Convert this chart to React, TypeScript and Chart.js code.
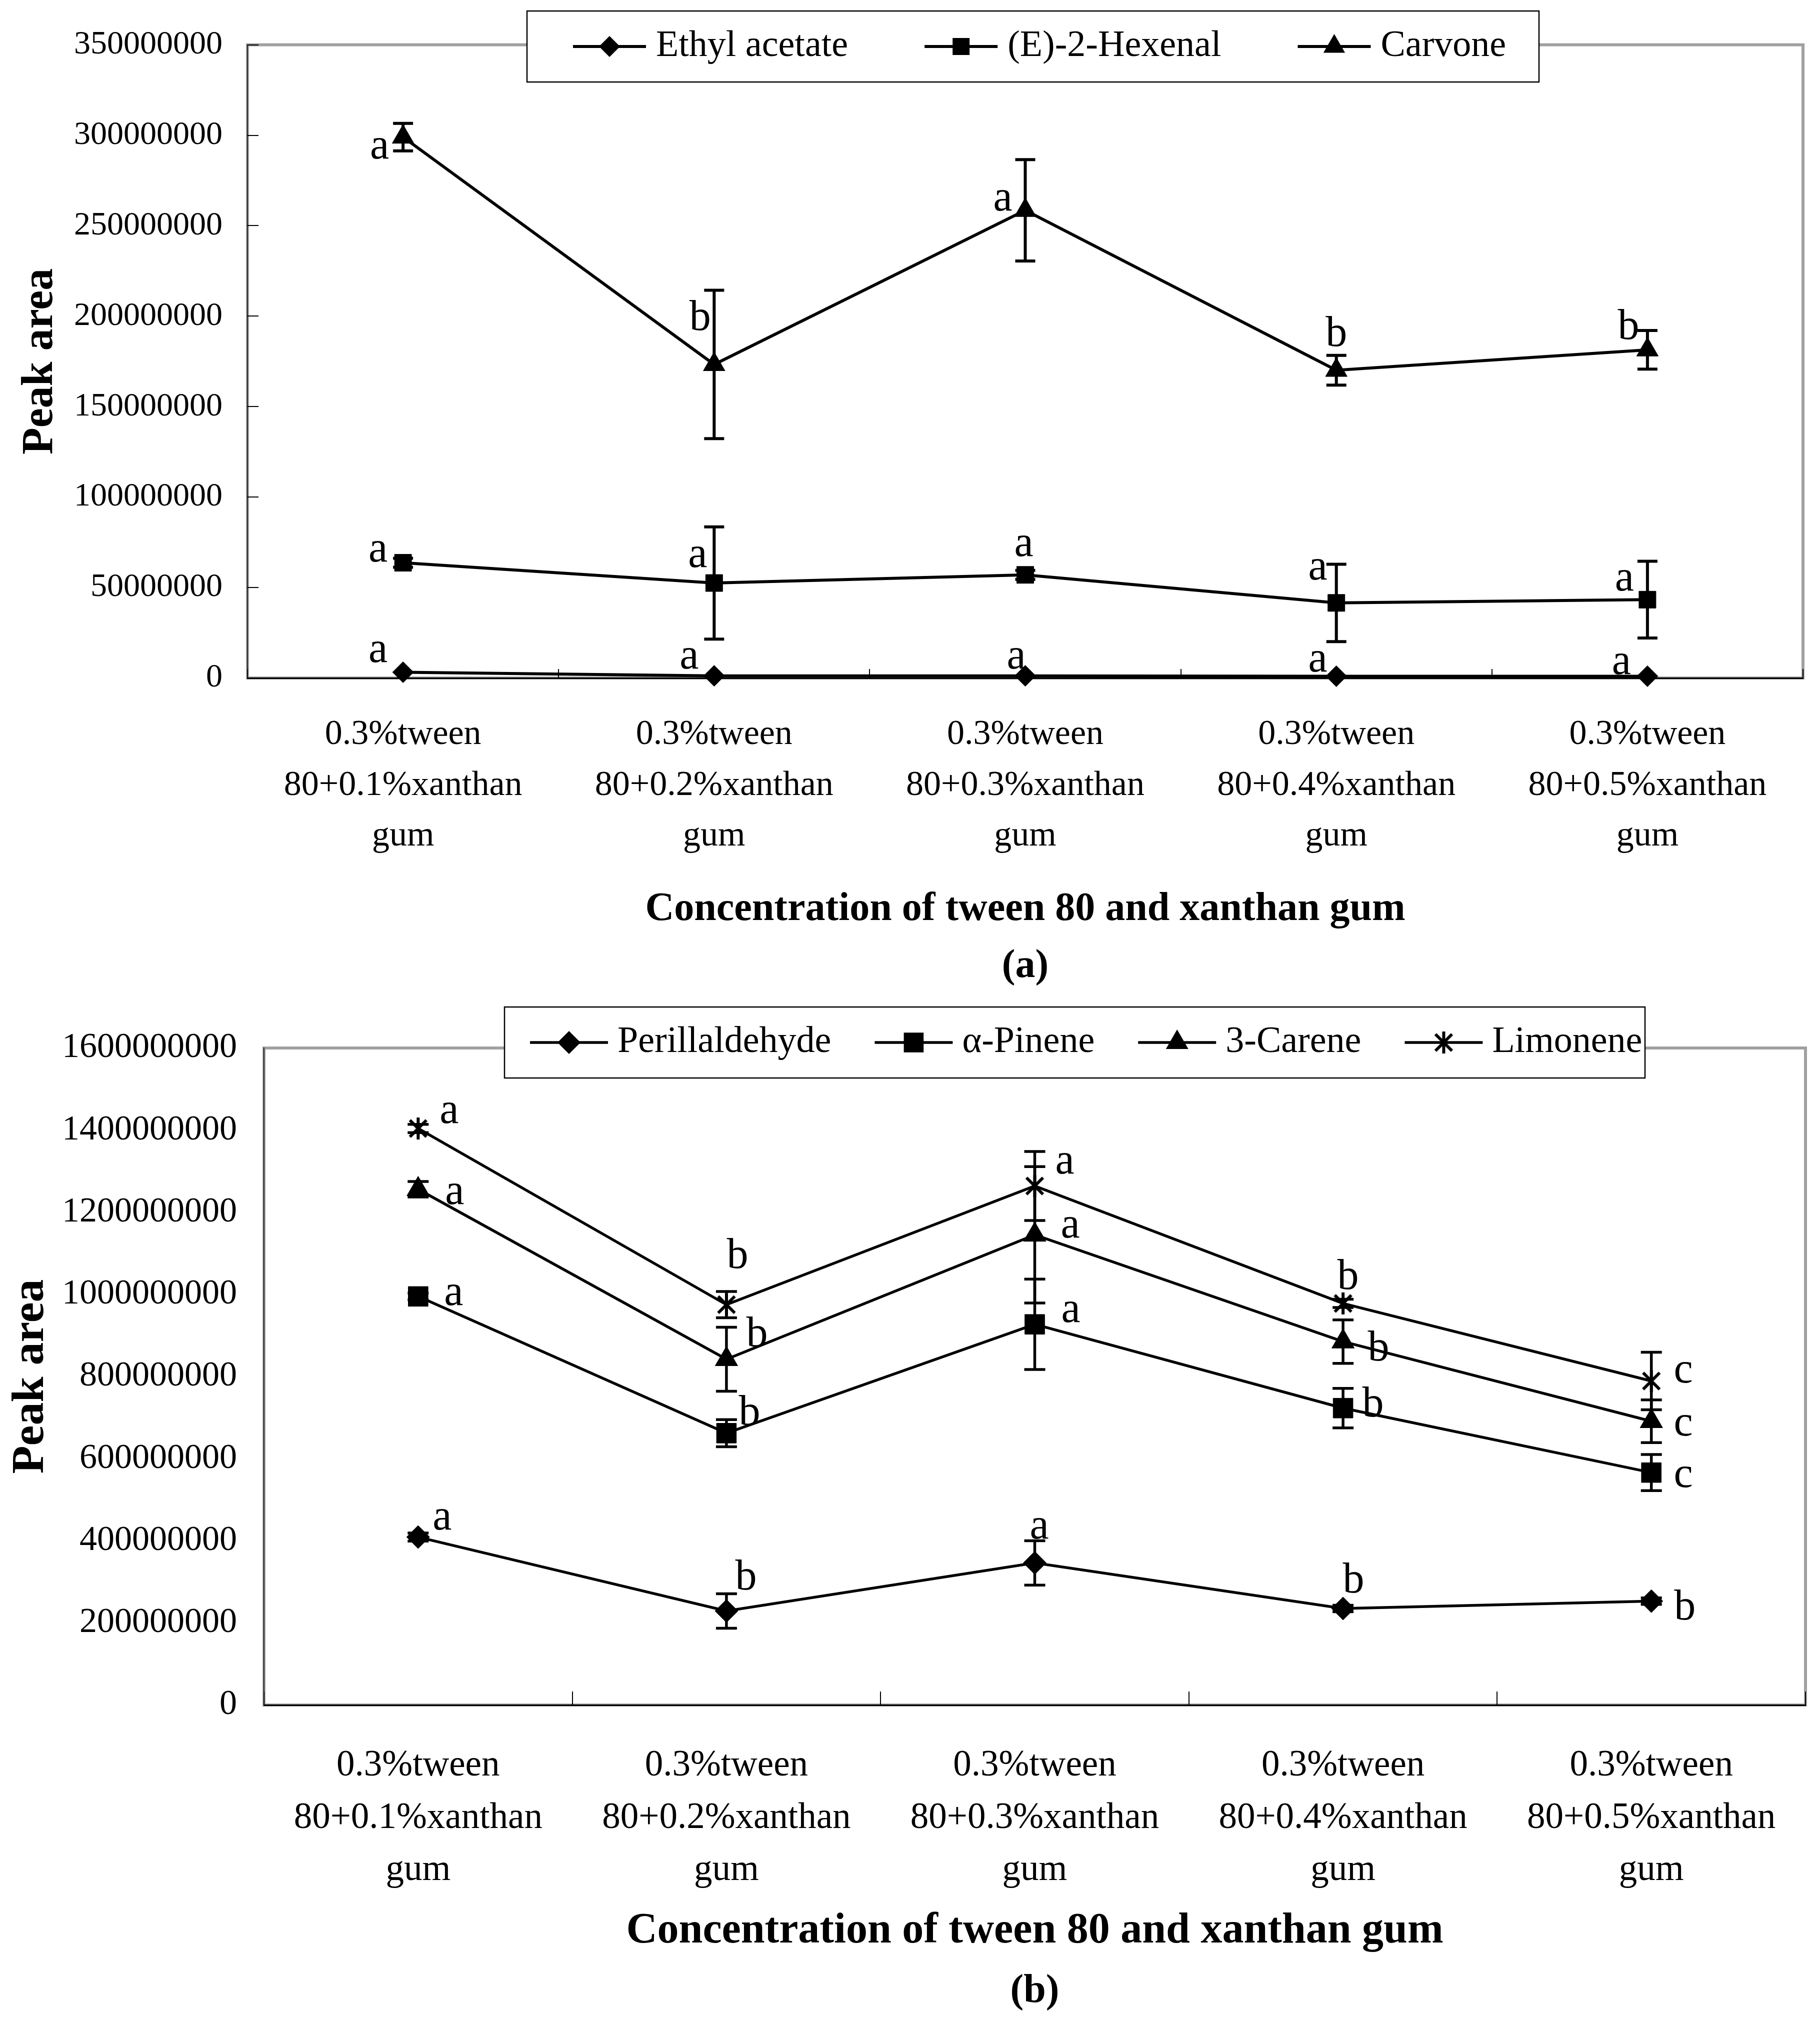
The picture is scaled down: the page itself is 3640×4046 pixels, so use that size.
import { useEffect, useRef } from "react";
import { Chart, registerables } from "chart.js";

Chart.register(...registerables);

const SERIF = "'Liberation Serif', 'Times New Roman', serif";
const PAGE_W = 3640;

// ---------------- data ----------------
const CATEGORIES = [
  ["0.3%tween", "80+0.1%xanthan", "gum"],
  ["0.3%tween", "80+0.2%xanthan", "gum"],
  ["0.3%tween", "80+0.3%xanthan", "gum"],
  ["0.3%tween", "80+0.4%xanthan", "gum"],
  ["0.3%tween", "80+0.5%xanthan", "gum"],
];
const X_TITLE = "Concentration of tween 80 and xanthan gum";
const Y_TITLE = "Peak area";

// panel (a)
const A_Y_MAX = 350000000;
const A_Y_STEP = 50000000;
const ETHYL_ACETATE = [3200000, 1200000, 1200000, 1000000, 1000000];
const ETHYL_ACETATE_ERR = [0, 0, 0, 0, 0];
const ETHYL_ACETATE_SIG = ["a", "a", "a", "a", "a"];
const HEXENAL = [63700000, 52500000, 57000000, 41500000, 43300000];
const HEXENAL_ERR = [2500000, 31000000, 2500000, 21400000, 21200000];
const HEXENAL_SIG = ["a", "a", "a", "a", "a"];
const CARVONE = [299000000, 173300000, 258500000, 170100000, 181400000];
const CARVONE_ERR = [7600000, 41000000, 28000000, 8200000, 10700000];
const CARVONE_SIG = ["a", "b", "a", "b", "b"];

// panel (b)
const B_Y_MAX = 1600000000;
const B_Y_STEP = 200000000;
const PERILLALDEHYDE = [409000000, 229000000, 346000000, 235000000, 253000000];
const PERILLALDEHYDE_ERR = [10000000, 42000000, 54000000, 8000000, 8000000];
const PERILLALDEHYDE_SIG = ["a", "b", "a", "b", "b"];
const PINENE = [995000000, 662000000, 927000000, 723000000, 566000000];
const PINENE_ERR = [8000000, 33000000, 110000000, 48000000, 44000000];
const PINENE_SIG = ["a", "b", "a", "b", "c"];
const CARENE = [1256000000, 842000000, 1145000000, 885000000, 691000000];
const CARENE_ERR = [19000000, 78000000, 166000000, 53000000, 52000000];
const CARENE_SIG = ["a", "b", "a", "b", "c"];
const LIMONENE = [1404000000, 975000000, 1264000000, 978000000, 789000000];
const LIMONENE_ERR = [10000000, 32000000, 84000000, 10000000, 70000000];
const LIMONENE_SIG = ["a", "b", "a", "b", "c"];

// ---------------- layout (label placement relative to each point, px) ----------------
const A_LABEL_OFFSETS = {
  ethyl: [[-50, -40], [-50, -34], [-18, -34], [-37, -29], [-52, -24]],
  hexenal: [[-50, -22], [-33, -52], [-3, -58], [-37, -67], [-46, -38]],
  carvone: [[-47, 23], [-28, -98], [-45, -19], [0, -78], [-38, -51]],
};
const B_LABEL_OFFSETS = {
  perill: [[48, -35], [39, -72], [9, -69], [21, -61], [67, 8]],
  pinene: [[71, -3], [46, -46], [72, -24], [60, -12], [64, 9]],
  carene: [[73, 10], [61, -55], [71, -14], [71, 9], [64, 9]],
  limonene: [[62, -31], [22, -103], [60, -45], [10, -58], [64, -17]],
};

type Marker = "rect" | "rectRot" | "triangle" | "asterisk";

interface Series {
  label: string;
  values: number[];
  errors: number[];
  letters: string[];
  offsets: number[][];
  marker: Marker;
  radius: number;
}

interface PanelSpec {
  canvasHeight: number;
  area: { left: number; top: number; right: number; bottom: number };
  yMax: number;
  yStep: number;
  yTickFont: number;
  yTickPad: number;
  yTitleFont: number;
  yTitlePad: number;
  yInnerTickLen: number;
  xTickFont: number;
  xTickLineHeight: number;
  xTickPad: number;
  xInnerTickLen: number;
  xTitleFont: number;
  xTitlePadBottom: number;
  panelLabel: string;
  panelLabelY: number;
  panelLabelFont: number;
  legend: {
    left: number; top: number; width: number; height: number;
    pad: number; lineLen: number; textGap: number; itemGap: number; font: number;
  };
  letterFont: number;
  capHalf: number;
  starSize: number;
  lineWidth: number;
  series: Series[];
}

const PANEL_A: PanelSpec = {
  canvasHeight: 2000,
  area: { left: 495, top: 87, right: 3606, bottom: 1356 },
  yMax: A_Y_MAX,
  yStep: A_Y_STEP,
  yTickFont: 66,
  yTickPad: 50,
  yTitleFont: 88,
  yTitlePad: 28,
  yInnerTickLen: 22,
  xTickFont: 70,
  xTickLineHeight: 1.45,
  xTickPad: 63,
  xInnerTickLen: 18,
  xTitleFont: 80,
  xTitlePadBottom: 133,
  panelLabel: "(a)",
  panelLabelY: 1933,
  panelLabelFont: 80,
  legend: { left: 1054, top: 22, width: 2024, height: 142, pad: 92, lineLen: 146, textGap: 20, itemGap: 153, font: 74 },
  letterFont: 86,
  capHalf: 20,
  starSize: 44,
  lineWidth: 6,
  series: [
    { label: "Ethyl acetate", values: ETHYL_ACETATE, errors: ETHYL_ACETATE_ERR, letters: ETHYL_ACETATE_SIG, offsets: A_LABEL_OFFSETS.ethyl, marker: "rectRot", radius: 21 },
    { label: "(E)-2-Hexenal", values: HEXENAL, errors: HEXENAL_ERR, letters: HEXENAL_SIG, offsets: A_LABEL_OFFSETS.hexenal, marker: "rect", radius: 24 },
    { label: "Carvone", values: CARVONE, errors: CARVONE_ERR, letters: CARVONE_SIG, offsets: A_LABEL_OFFSETS.carvone, marker: "triangle", radius: 25 },
  ],
};

const PANEL_B: PanelSpec = {
  canvasHeight: 2046,
  area: { left: 528, top: 83, right: 3622, bottom: 1410 },
  yMax: B_Y_MAX,
  yStep: B_Y_STEP,
  yTickFont: 70,
  yTickPad: 54,
  yTitleFont: 92,
  yTitlePad: 7,
  yInnerTickLen: 0,
  xTickFont: 73,
  xTickLineHeight: 1.43,
  xTickPad: 70,
  xInnerTickLen: 27,
  xTitleFont: 86,
  xTitlePadBottom: 132,
  panelLabel: "(b)",
  panelLabelY: 1983,
  panelLabelFont: 80,
  legend: { left: 1009, top: 14, width: 2281, height: 142, pad: 51, lineLen: 156, textGap: 19, itemGap: 87, font: 74 },
  letterFont: 86,
  capHalf: 21,
  starSize: 46,
  lineWidth: 5.5,
  series: [
    { label: "Perillaldehyde", values: PERILLALDEHYDE, errors: PERILLALDEHYDE_ERR, letters: PERILLALDEHYDE_SIG, offsets: B_LABEL_OFFSETS.perill, marker: "rectRot", radius: 23 },
    { label: "α-Pinene", values: PINENE, errors: PINENE_ERR, letters: PINENE_SIG, offsets: B_LABEL_OFFSETS.pinene, marker: "rect", radius: 28 },
    { label: "3-Carene", values: CARENE, errors: CARENE_ERR, letters: CARENE_SIG, offsets: B_LABEL_OFFSETS.carene, marker: "triangle", radius: 26 },
    { label: "Limonene", values: LIMONENE, errors: LIMONENE_ERR, letters: LIMONENE_SIG, offsets: B_LABEL_OFFSETS.limonene, marker: "asterisk", radius: 23 },
  ],
};

function makeStar(size: number, lw: number): HTMLCanvasElement {
  const c = document.createElement("canvas");
  c.width = size;
  c.height = size;
  const g = c.getContext("2d")!;
  g.strokeStyle = "#000";
  g.lineWidth = lw;
  g.beginPath();
  g.moveTo(size / 2, 1);
  g.lineTo(size / 2, size - 1);
  const m = size * 0.14;
  g.moveTo(m, m);
  g.lineTo(size - m, size - m);
  g.moveTo(size - m, m);
  g.lineTo(m, size - m);
  g.stroke();
  return c;
}

function drawMarker(ctx: CanvasRenderingContext2D, style: any, x: number, y: number, r: number) {
  if (style instanceof HTMLCanvasElement) {
    ctx.drawImage(style, x - style.width / 2, y - style.height / 2);
    return;
  }
  ctx.beginPath();
  if (style === "rect") {
    const s = Math.SQRT1_2 * r;
    ctx.rect(x - s, y - s, 2 * s, 2 * s);
  } else if (style === "rectRot") {
    ctx.moveTo(x - r, y);
    ctx.lineTo(x, y - r);
    ctx.lineTo(x + r, y);
    ctx.lineTo(x, y + r);
    ctx.closePath();
  } else if (style === "triangle") {
    ctx.moveTo(x, y - r);
    ctx.lineTo(x + r * Math.sin((2 * Math.PI) / 3), y - r * Math.cos((2 * Math.PI) / 3));
    ctx.lineTo(x + r * Math.sin((4 * Math.PI) / 3), y - r * Math.cos((4 * Math.PI) / 3));
    ctx.closePath();
  }
  ctx.fillStyle = "#000";
  ctx.fill();
}

function createPanelChart(canvas: HTMLCanvasElement, spec: PanelSpec): Chart {
  const star = makeStar(spec.starSize, 6);
  const styleOf = (m: Marker): any => (m === "asterisk" ? star : m);
  const a = spec.area;

  const datasets = spec.series.map((s) => ({
    label: s.label,
    data: s.values,
    borderColor: "#000",
    backgroundColor: "#000",
    borderWidth: spec.lineWidth,
    pointStyle: styleOf(s.marker),
    pointRadius: s.radius,
    pointHoverRadius: s.radius,
    pointBackgroundColor: "#000",
    pointBorderColor: "#000",
    pointBorderWidth: 1,
    tension: 0,
    fill: false,
    clip: false as any,
  }));

  const decor = {
    id: "panelDecor",
    beforeDraw(chart: any) {
      const { ctx, chartArea: ca } = chart;
      ctx.save();
      ctx.fillStyle = "#fff";
      ctx.fillRect(0, 0, chart.width, chart.height);
      ctx.strokeStyle = "#a0a0a0";
      ctx.lineWidth = 6;
      ctx.strokeRect(ca.left, ca.top, ca.right - ca.left, ca.bottom - ca.top);
      ctx.restore();
    },
    afterDatasetsDraw(chart: any) {
      const { ctx, chartArea: ca } = chart;
      const xs = chart.scales.x;
      const ys = chart.scales.y;
      ctx.save();
      // inward tick marks
      ctx.strokeStyle = "#000";
      ctx.lineWidth = 2;
      ctx.beginPath();
      if (spec.yInnerTickLen > 0) {
        for (const t of ys.ticks) {
          const py = Math.round(ys.getPixelForValue(t.value));
          ctx.moveTo(ca.left, py);
          ctx.lineTo(ca.left + spec.yInnerTickLen, py);
        }
      }
      const n = CATEGORIES.length;
      const half = (xs.getPixelForValue(1) - xs.getPixelForValue(0)) / 2;
      for (let i = 0; i <= n; i++) {
        const px = Math.round(i < n ? xs.getPixelForValue(i) - half : xs.getPixelForValue(n - 1) + half);
        ctx.moveTo(px, ca.bottom);
        ctx.lineTo(px, ca.bottom - spec.xInnerTickLen);
      }
      ctx.stroke();

      // error bars
      ctx.lineWidth = spec.lineWidth;
      spec.series.forEach((s, di) => {
        const meta = chart.getDatasetMeta(di);
        meta.data.forEach((pt: any, i: number) => {
          const e = s.errors[i];
          if (!e) return;
          const v = s.values[i];
          const yt = ys.getPixelForValue(v + e);
          const yb = ys.getPixelForValue(v - e);
          ctx.beginPath();
          ctx.moveTo(pt.x, yt);
          ctx.lineTo(pt.x, yb);
          ctx.moveTo(pt.x - spec.capHalf, yt);
          ctx.lineTo(pt.x + spec.capHalf, yt);
          ctx.moveTo(pt.x - spec.capHalf, yb);
          ctx.lineTo(pt.x + spec.capHalf, yb);
          ctx.stroke();
        });
      });

      // significance letters
      const F = spec.letterFont;
      ctx.fillStyle = "#000";
      ctx.font = `${F}px ${SERIF}`;
      ctx.textAlign = "center";
      ctx.textBaseline = "alphabetic";
      spec.series.forEach((s, di) => {
        const meta = chart.getDatasetMeta(di);
        meta.data.forEach((pt: any, i: number) => {
          const letter = s.letters[i];
          const [dx, dy] = s.offsets[i];
          const tall = letter === "b" || letter === "d";
          ctx.fillText(letter, pt.x + dx, pt.y + dy + (tall ? 0.34 : 0.23) * F);
        });
      });
      ctx.restore();
    },
    afterDraw(chart: any) {
      const { ctx, chartArea: ca } = chart;
      const L = spec.legend;
      ctx.save();
      // legend box
      ctx.fillStyle = "#fff";
      ctx.fillRect(L.left, L.top, L.width, L.height);
      ctx.strokeStyle = "#000";
      ctx.lineWidth = 2.5;
      ctx.strokeRect(L.left, L.top, L.width, L.height);
      const cy = L.top + L.height / 2;
      let x = L.left + L.pad;
      ctx.font = `${L.font}px ${SERIF}`;
      ctx.textBaseline = "middle";
      ctx.textAlign = "left";
      spec.series.forEach((s) => {
        ctx.strokeStyle = "#000";
        ctx.lineWidth = spec.lineWidth;
        ctx.beginPath();
        ctx.moveTo(x, cy);
        ctx.lineTo(x + L.lineLen, cy);
        ctx.stroke();
        drawMarker(ctx, styleOf(s.marker), x + L.lineLen / 2, cy, s.radius);
        const tx = x + L.lineLen + L.textGap;
        ctx.fillStyle = "#000";
        ctx.fillText(s.label, tx, cy);
        x = tx + ctx.measureText(s.label).width + L.itemGap;
      });
      // panel label
      ctx.font = `bold ${spec.panelLabelFont}px ${SERIF}`;
      ctx.textAlign = "center";
      ctx.textBaseline = "middle";
      ctx.fillStyle = "#000";
      ctx.fillText(spec.panelLabel, (ca.left + ca.right) / 2, spec.panelLabelY);
      ctx.restore();
    },
  };

  return new Chart(canvas, {
    type: "line",
    data: { labels: CATEGORIES, datasets: datasets as any },
    options: {
      animation: false,
      responsive: false,
      maintainAspectRatio: false,
      devicePixelRatio: 1,
      events: [],
      layout: { padding: { left: 0, top: a.top, right: PAGE_W - a.right, bottom: 0 } },
      plugins: {
        legend: { display: false },
        tooltip: { enabled: false },
        title: { display: false },
      },
      scales: {
        x: {
          type: "category",
          offset: true,
          grid: { display: false, drawTicks: false, offset: true },
          border: { display: true, color: "#000", width: 3 },
          ticks: {
            autoSkip: false,
            maxRotation: 0,
            minRotation: 0,
            padding: spec.xTickPad,
            color: "#000",
            font: { family: SERIF, size: spec.xTickFont, lineHeight: spec.xTickLineHeight },
          },
          title: {
            display: true,
            text: X_TITLE,
            color: "#000",
            font: { family: SERIF, size: spec.xTitleFont, weight: "bold", lineHeight: 1.2 },
            padding: { top: 0, bottom: spec.xTitlePadBottom },
          },
          afterFit: (s: any) => {
            s.height = spec.canvasHeight - a.bottom;
          },
        },
        y: {
          type: "linear",
          min: 0,
          max: spec.yMax,
          grid: { display: false, drawTicks: false },
          border: { display: true, color: "#000", width: 1.5 },
          ticks: {
            stepSize: spec.yStep,
            padding: spec.yTickPad,
            color: "#000",
            font: { family: SERIF, size: spec.yTickFont, lineHeight: 1.2 },
            callback: (v: any) => String(v),
          },
          title: {
            display: true,
            text: Y_TITLE,
            color: "#000",
            font: { family: SERIF, size: spec.yTitleFont, weight: "bold", lineHeight: 1.2 },
            padding: { top: spec.yTitlePad, bottom: 0 },
          },
          afterFit: (s: any) => {
            s.width = a.left;
          },
        },
      },
    } as any,
    plugins: [decor as any],
  });
}

function Panel({ spec, top }: { spec: PanelSpec; top: number }) {
  const ref = useRef<HTMLCanvasElement>(null);
  useEffect(() => {
    if (!ref.current) return;
    const chart = createPanelChart(ref.current, spec);
    return () => chart.destroy();
  }, [spec]);
  return (
    <canvas
      ref={ref}
      width={PAGE_W}
      height={spec.canvasHeight}
      style={{ position: "absolute", left: 0, top, width: PAGE_W, height: spec.canvasHeight, display: "block" }}
    />
  );
}

export default function App() {
  return (
    <div style={{ position: "absolute", left: 0, top: 0, width: PAGE_W, height: 4046, background: "#fff", overflow: "hidden" }}>
      <Panel spec={PANEL_A} top={0} />
      <Panel spec={PANEL_B} top={2000} />
    </div>
  );
}
